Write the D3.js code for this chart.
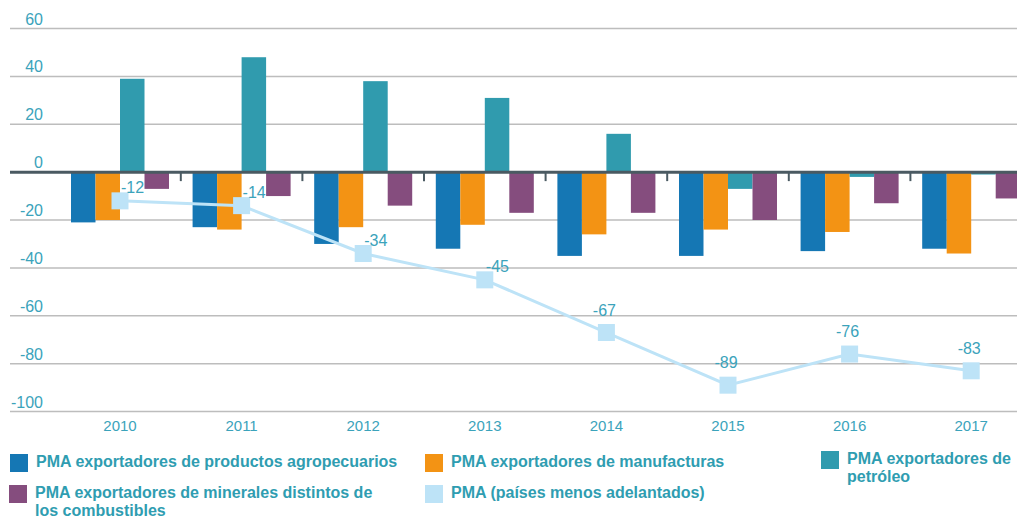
<!DOCTYPE html>
<html>
<head>
<meta charset="utf-8">
<script src="https://cdn.jsdelivr.net/npm/d3@7"></script>
<style>
  body { margin: 0; background: #fff; }
  svg text { font-family: "Liberation Sans", Arial, sans-serif; }
</style>
</head>
<body>
<svg id="chart" width="1017" height="519"></svg>
<script>
// Datos
const years = ["2010", "2011", "2012", "2013", "2014", "2015", "2016", "2017"];
const agro = [-21, -23, -30, -32, -35, -35, -33, -32];
const manuf = [-20, -24, -23, -22, -26, -24, -25, -34];
const petro = [39, 48, 38, 31, 16, -7, -2, -1];
const minerales = [-7, -10, -14, -17, -17, -20, -13, -11];
const pma = [-12, -14, -34, -45, -67, -89, -76, -83];
const yTicks = [60, 40, 20, 0, -20, -40, -60, -80, -100];

const colors = ["#1577b4", "#f39314", "#309bae", "#854d7e", "#bde3f7"];
const barSeries = [agro, manuf, petro, minerales];

const svg = d3.select("#chart");
const left = 10, right = 1017;

// Escalas
const y = d3.scaleLinear().domain([-100, 60]).range([411.5, 28.5]);
const x0 = d3.scaleBand()
  .domain(years)
  .range([59.2, 1032])
  .paddingInner(0.194)
  .paddingOuter(0.097);
const x1 = d3.scaleBand()
  .domain(d3.range(barSeries.length))
  .range([0, x0.bandwidth()]);

// Rejilla
svg.append("g")
  .selectAll("line")
  .data(yTicks.filter(d => d !== 0))
  .enter()
  .append("line")
  .attr("x1", left).attr("x2", right)
  .attr("y1", d => y(d)).attr("y2", d => y(d))
  .attr("stroke", "#bdbdbd")
  .attr("stroke-width", 1.5);

// Etiquetas eje Y
svg.append("g")
  .selectAll("text")
  .data(yTicks)
  .enter()
  .append("text")
  .attr("x", 43)
  .attr("y", d => y(d) - 4)
  .attr("text-anchor", "end")
  .attr("font-size", 16)
  .attr("fill", "#3ba3bb")
  .text(d => d);

// Barras
const groups = svg.append("g")
  .selectAll("g")
  .data(years)
  .enter()
  .append("g")
  .attr("transform", d => `translate(${x0(d)},0)`);

groups.selectAll("rect")
  .data((d, i) => barSeries.map((s, k) => ({ k, v: s[i] })))
  .enter()
  .append("rect")
  .attr("x", d => x1(d.k))
  .attr("width", x1.bandwidth())
  .attr("y", d => y(Math.max(0, d.v)))
  .attr("height", d => Math.abs(y(d.v) - y(0)))
  .attr("fill", d => colors[d.k]);

// Línea cero y marcas entre grupos
svg.append("line")
  .attr("x1", left).attr("x2", right)
  .attr("y1", y(0)).attr("y2", y(0))
  .attr("stroke", "#4a5a62")
  .attr("stroke-width", 3);

const step = x0.step();
svg.append("g")
  .selectAll("line")
  .data(years.slice(1))
  .enter()
  .append("line")
  .attr("x1", d => x0(d) - (step - x0.bandwidth()) / 2)
  .attr("x2", d => x0(d) - (step - x0.bandwidth()) / 2)
  .attr("y1", y(0))
  .attr("y2", y(0) + 9)
  .attr("stroke", "#4a5a62")
  .attr("stroke-width", 2);

// Etiquetas eje X
svg.append("g")
  .selectAll("text")
  .data(years)
  .enter()
  .append("text")
  .attr("x", d => x0(d) + x0.bandwidth() / 2)
  .attr("y", 431)
  .attr("text-anchor", "middle")
  .attr("font-size", 15)
  .attr("fill", "#3ba3bb")
  .text(d => d);

// Línea PMA
const cx = (d, i) => x0(years[i]) + x0.bandwidth() / 2;
const line = d3.line().x(cx).y(d => y(d));
svg.append("path")
  .datum(pma)
  .attr("d", line)
  .attr("fill", "none")
  .attr("stroke", colors[4])
  .attr("stroke-width", 3);

svg.append("g")
  .selectAll("rect")
  .data(pma)
  .enter()
  .append("rect")
  .attr("x", (d, i) => cx(d, i) - 8.5)
  .attr("y", d => y(d) - 8.5)
  .attr("width", 17)
  .attr("height", 17)
  .attr("fill", colors[4]);

svg.append("g")
  .selectAll("text")
  .data(pma)
  .enter()
  .append("text")
  .attr("x", (d, i) => i < 4 ? cx(d, i) + 1 : cx(d, i) - 2)
  .attr("y", (d, i) => i < 4 ? y(d) - 8 : y(d) - 17)
  .attr("text-anchor", (d, i) => i < 4 ? "start" : "middle")
  .attr("font-size", 16)
  .attr("fill", "#3ba3bb")
  .text(d => d);

// Leyenda
const legend = [
  { c: 0, x: 10, y: 454, lines: ["PMA exportadores de productos agropecuarios"] },
  { c: 1, x: 425, y: 454, lines: ["PMA exportadores de manufacturas"] },
  { c: 2, x: 821, y: 451, lines: ["PMA exportadores de", "petróleo"] },
  { c: 3, x: 9, y: 485, lines: ["PMA exportadores de minerales distintos de", "los combustibles"] },
  { c: 4, x: 425, y: 485, lines: ["PMA (países menos adelantados)"] }
];
const lg = svg.append("g")
  .selectAll("g")
  .data(legend)
  .enter()
  .append("g")
  .attr("transform", d => `translate(${d.x},${d.y})`);
lg.append("rect")
  .attr("width", 18).attr("height", 18)
  .attr("fill", d => colors[d.c]);
lg.append("text")
  .attr("x", 26)
  .attr("y", 13)
  .attr("font-size", 16)
  .attr("font-weight", "bold")
  .attr("fill", "#2f9db1")
  .selectAll("tspan")
  .data(d => d.lines)
  .enter()
  .append("tspan")
  .attr("x", 26)
  .attr("dy", (d, i) => i === 0 ? 0 : 18)
  .text(d => d);
</script>
</body>
</html>
